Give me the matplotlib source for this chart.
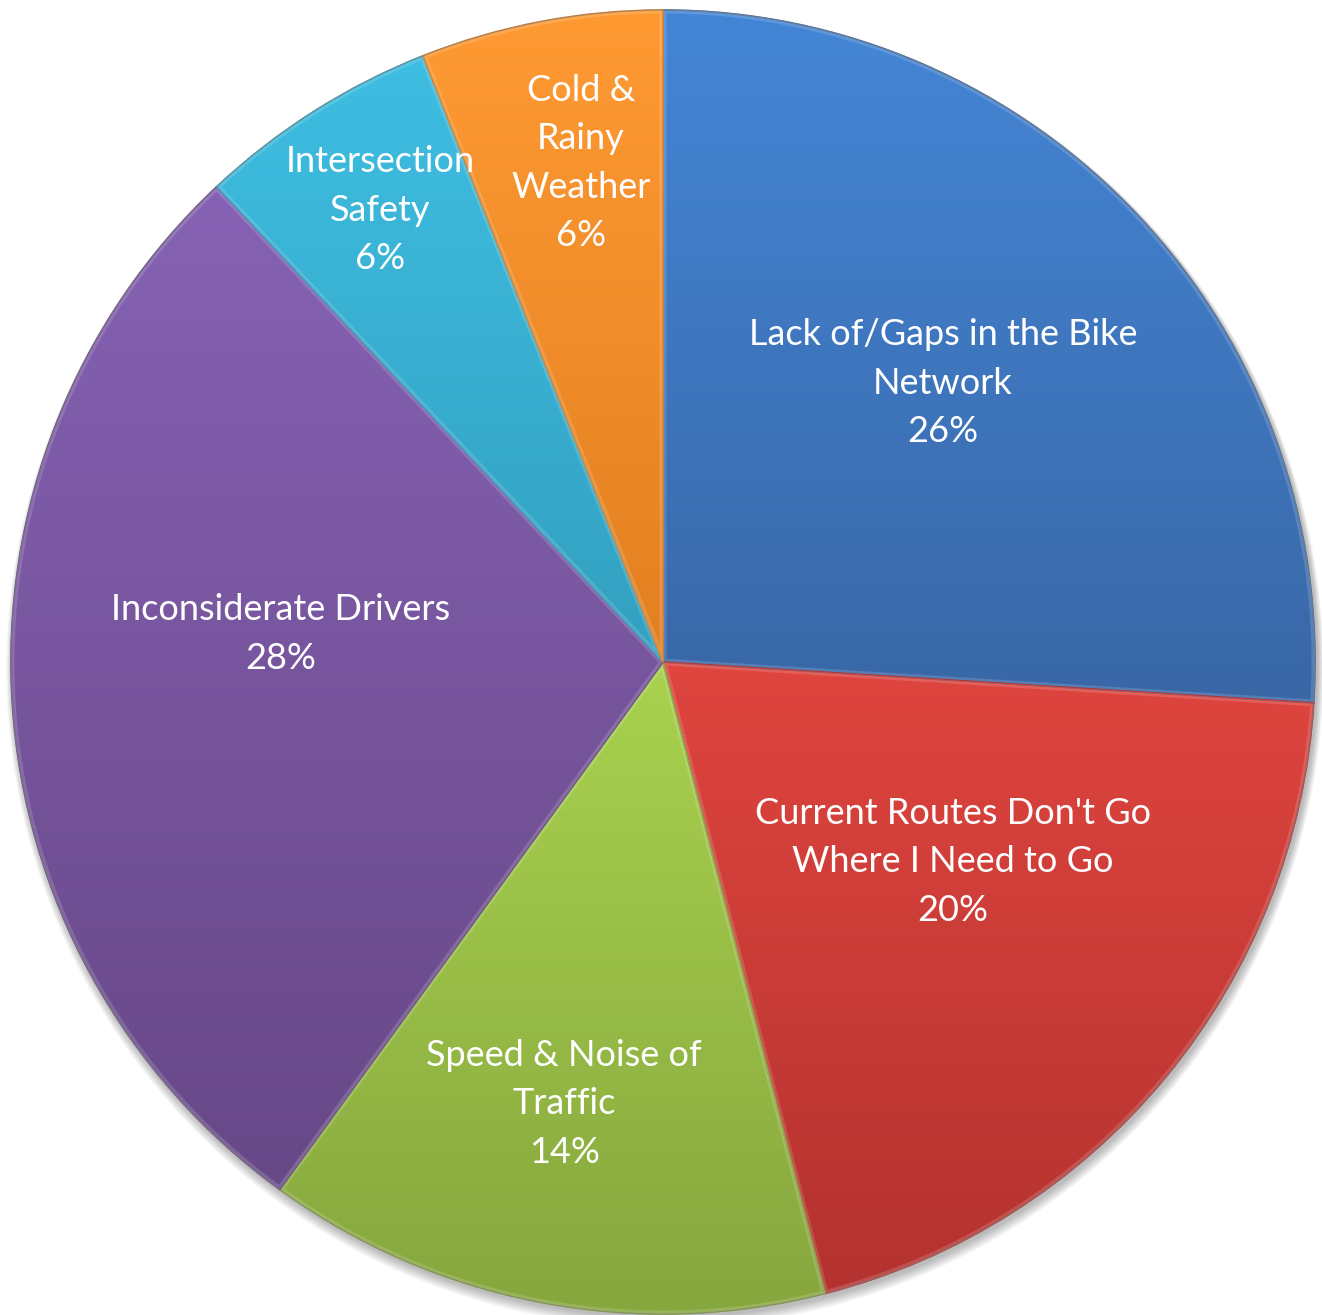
import numpy as np
import matplotlib
matplotlib.use("Agg")
import matplotlib.pyplot as plt
from matplotlib.colors import LinearSegmentedColormap
from matplotlib.patches import Circle, PathPatch

labels = ["Lack of/Gaps in the Bike\nNetwork", "Current Routes Don't Go\nWhere I Need to Go",
          "Speed & Noise of\nTraffic", "Inconsiderate Drivers",
          "Intersection\nSafety", "Cold &\nRainy\nWeather"]
shares = [26, 20, 14, 28, 6, 6]
top_colors = ["#4486D6", "#E0453F", "#A9D24F", "#8662B4", "#3EBEE2", "#FF9A33"]
bottom_colors = ["#3967A6", "#B3322F", "#86A63E", "#674887", "#33A0C0", "#E27F20"]

# label centres, in pixel coordinates from the top-left corner
label_xy = [(943, 383), (953, 862), (564, 1104), (281, 634), (380, 210), (581, 163)]

W, H = 1322, 1315
cx, cy, R = 663, H - 662, 652

plt.rcParams['font.family'] = ['Lato', 'DejaVu Sans']
fig = plt.figure(figsize=(W / 100, H / 100), dpi=100)
ax = fig.add_axes([0, 0, 1, 1])

# soft drop shadow under the pie
for i in range(8):
    ax.add_patch(Circle((cx + 2, cy - 3 - i * 0.6), R + 1 + i * 0.8, color='#000000',
                        alpha=0.035, lw=0, zorder=0))

wedges, _ = ax.pie(shares, startangle=90, counterclock=False, center=(cx, cy),
                   radius=R, colors=top_colors, frame=True,
                   wedgeprops=dict(linewidth=0))

# vertical gradient for each slice, clipped to the wedge
grad = np.linspace(0, 1, 256).reshape(-1, 1)
for w, c0, c1 in zip(wedges, top_colors, bottom_colors):
    w.set_zorder(1)
    bb = w.get_path().get_extents()
    cmap = LinearSegmentedColormap.from_list('g', [c1, c0])
    im = ax.imshow(grad, cmap=cmap, origin='lower', aspect='auto',
                   extent=(bb.x0, bb.x1, bb.y0, bb.y1), zorder=2, interpolation='bilinear')
    im.set_clip_path(w)

# thin darker seams and a faint light bevel along each slice edge
for w, c1 in zip(wedges, bottom_colors):
    ax.add_patch(PathPatch(w.get_path(), fill=False, edgecolor=c1, lw=1.2, zorder=3))
    bevel = PathPatch(w.get_path(), fill=False, edgecolor='white', lw=5, alpha=0.15, zorder=3)
    ax.add_patch(bevel)
    bevel.set_clip_path(w)

ax.add_patch(Circle((cx, cy), R, fill=False, edgecolor='#7f7f7f', lw=0.8, alpha=0.6, zorder=4))

for lab, s, (px, py) in zip(labels, shares, label_xy):
    ax.text(px, H - py, f"{lab}\n{s}%", ha='center', va='center', color='white',
            fontsize=26, linespacing=1.56, zorder=5)

ax.set_xlim(0, W)
ax.set_ylim(0, H)
ax.set_aspect('auto')
ax.axis('off')
fig.savefig("out.png", dpi=100)
